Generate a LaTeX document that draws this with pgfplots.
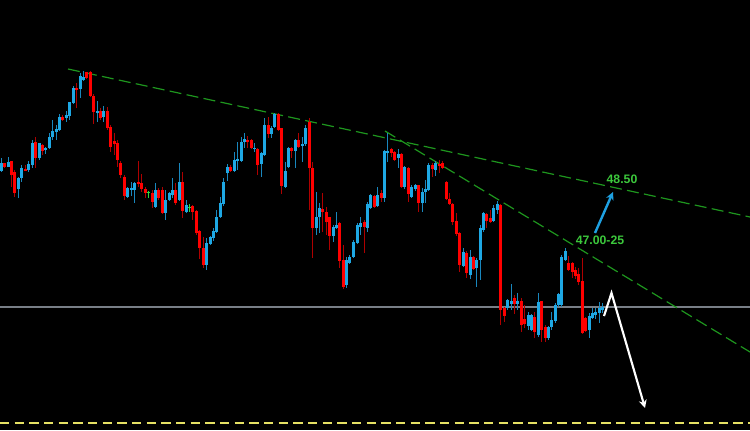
\documentclass[border=0pt]{standalone}
\usepackage{pgfplots}
\pgfplotsset{compat=1.18}
\usepackage{pgfplotstable}
\usepackage{fontspec}
\setmainfont{Liberation Sans}
\usetikzlibrary{arrows.meta,backgrounds}
\definecolor{cblue}{RGB}{30,168,228}
\definecolor{cbluew}{RGB}{25,135,190}
\definecolor{cred}{RGB}{255,0,0}
\definecolor{credw}{RGB}{175,0,0}
\definecolor{cdoji}{RGB}{40,220,60}
\definecolor{tline}{RGB}{30,150,30}
\definecolor{tlabel}{RGB}{60,200,60}
\definecolor{carrow}{RGB}{30,160,225}
\definecolor{cgrayline}{RGB}{120,126,134}
\definecolor{cyell}{RGB}{230,225,100}

% columns: x, body top, body bottom, high, low (chart pixel units, y down)
\pgfplotstableread{
x top bot hi lo
1.0 163 171 158 172
8.0 162 167 157 167
18.3 178 189 177 198
21.7 168 178 165 182
28.7 164 170 161 172
32.0 143 165 140 168
39.0 143 158 143 160
45.7 148 150 147 154
49.0 137 148 133 149
52.7 131 137 120 140
56.0 129 132 125 140
59.3 117 130 114 131
66.3 115 118 111 122
69.7 102 116 102 120
73.0 88 103 86 104
80.0 76 89 73 98
83.3 77 80 71 81
97.0 111 113 101 122
103.7 111 117 106 122
127.3 188 197 187 198
131.0 188 190 182 196
134.7 183 190 182 203
155.3 190 207 183 208
165.7 200 213 190 220
169.0 193 200 192 201
172.3 190 195 178 198
179.0 182 200 163 201
186.0 205 212 200 213
206.3 243 265 238 270
210.0 237 244 236 245
213.3 231 238 228 241
216.7 217 232 210 233
220.3 203 217 197 218
223.7 182 204 178 206
227.0 167 173 164 181
234.0 160 171 152 172
237.3 159 161 142 170
241.0 142 161 137 162
244.3 139 142 133 148
254.3 148 149 143 152
261.0 153 164 152 177
264.7 125 155 118 156
271.3 128 134 126 138
274.7 114 127 113 128
285.0 171 187 162 188
288.3 148 167 147 168
295.3 140 151 139 168
302.0 144 146 137 162
305.7 128 144 125 146
316.0 217 228 192 235
319.3 208 217 203 233
333.0 227 236 225 242
336.3 225 228 212 229
346.3 260 285 257 288
349.7 257 263 255 264
353.3 242 257 240 258
357.3 225 243 223 244
360.7 223 227 217 235
367.3 204 228 202 232
370.7 195 208 194 209
377.7 195 206 187 207
384.3 151 198 150 202
387.7 151 153 133 162
398.0 154 158 149 168
404.7 167 187 166 189
411.7 187 197 185 198
415.0 185 189 184 191
422.0 192 203 188 212
425.3 189 192 180 203
428.7 165 190 163 191
435.7 163 170 161 176
463.0 252 266 248 267
470.0 257 275 250 279
476.7 260 268 258 287
480.0 228 260 225 280
483.3 213 230 212 232
493.7 208 221 205 222
497.0 204 210 201 214
507.7 300 308 299 310
511.0 301 304 284 310
517.7 301 304 293 310
528.0 315 326 312 330
531.3 315 330 314 331
538.0 302 335 293 337
548.3 327 338 326 340
551.7 320 327 312 330
555.0 305 321 303 323
558.3 294 305 293 307
561.7 257 305 255 307
565.0 251 260 248 261
589.0 316 330 313 338
592.3 313 318 308 319
595.7 312 315 308 319
599.0 308 313 302 323
602.4 307 310 303 313
}\bluedata

\pgfplotstableread{
x top bot hi lo
4.3 163 167 163 168
11.3 161 175 161 187
14.7 172 193 170 197
25.0 169 171 165 171
35.3 142 158 137 168
42.3 145 151 144 155
62.7 117 120 115 121
76.3 88 90 83 108
86.7 72 78 72 79
90.0 72 96 71 97
93.7 96 112 94 124
100.3 111 118 108 120
107.0 111 128 107 130
110.7 127 147 125 152
114.0 141 144 133 155
117.3 143 160 140 167
120.7 163 175 161 178
124.0 177 196 175 200
138.0 182 184 161 187
141.3 183 189 174 192
145.0 189 193 187 198
152.0 193 202 190 208
158.7 190 198 188 200
162.0 190 213 187 214
175.7 190 203 183 205
182.7 182 211 172 218
192.7 206 212 205 220
196.3 211 233 210 235
199.7 231 248 230 259
203.0 248 265 237 268
230.3 167 171 165 172
247.7 140 142 136 148
251.0 140 148 139 149
257.7 149 165 148 175
268.0 125 134 117 138
278.3 114 130 113 131
281.7 128 186 128 194
291.7 148 151 147 158
298.7 140 147 133 148
309.0 122 168 118 210
312.3 168 228 162 258
322.7 209 212 193 232
326.0 212 222 207 235
329.3 217 236 217 250
339.7 223 261 222 268
343.0 260 287 245 289
364.0 222 227 220 253
374.0 196 207 195 208
381.0 193 198 190 202
391.0 149 153 148 157
394.7 152 160 151 161
401.3 154 187 153 188
408.3 168 194 167 202
418.3 185 203 185 212
432.0 165 169 163 177
439.0 164 166 160 173
442.3 163 168 161 169
446.0 182 199 181 200
449.3 199 204 193 205
452.7 204 222 203 225
456.0 221 234 213 236
459.7 233 265 232 272
466.3 253 273 251 278
473.3 257 269 256 270
486.7 214 221 213 228
490.3 218 222 210 223
500.7 205 310 204 325
504.0 308 316 307 322
514.3 298 304 295 314
521.0 301 325 298 332
524.3 319 324 305 328
534.7 317 332 312 338
541.3 301 330 301 342
545.0 327 338 325 342
568.7 263 270 256 271
572.0 263 272 262 278
575.3 270 276 267 279
578.7 274 282 268 285
582.3 281 333 258 334
585.7 318 331 317 332
}\reddata

\pgfplotstableread{
x top bot hi lo
148.3 192 193 191 198
189.3 207 208 204 212
}\dojidata

\pgfplotsset{
  wick/.style={draw=#1, solid, line width=0.75pt, mark=none,
    quiver={u=0, v=\thisrow{lo}-\thisrow{hi}}},
  body/.style={draw=#1, solid, line width=2.25pt, mark=none,
    quiver={u=0, v={max(\thisrow{bot}-\thisrow{top},1)}}},
}

\begin{document}
\begin{tikzpicture}[show background rectangle, inner frame sep=0pt,
  background rectangle/.style={fill=black, draw=none}]
\begin{axis}[
  scale only axis,
  width=562.5pt, height=322.5pt,
  xmin=0, xmax=750, ymin=0, ymax=430,
  y dir=reverse,
  axis background/.style={fill=black},
  axis line style={draw=none},
  ticks=none,
  clip=true,
]
% horizontal gray level
\addplot[cgrayline, solid, line width=1.1pt] coordinates {(0,307) (750,307)};
% yellow dashed level
\addplot[cyell, line width=1.1pt, dash pattern=on 7pt off 4pt] coordinates {(0,423) (750,423)};
% trendlines
\addplot[tline, line width=0.9pt, dash pattern=on 9pt off 4pt] coordinates {(68,69) (750,217)};
\addplot[tline, line width=0.9pt, dash pattern=on 9pt off 4pt] coordinates {(385,131) (750,352)};

% wicks
\addplot[wick=cbluew] table[x=x, y=hi] {\bluedata};
\addplot[wick=credw] table[x=x, y=hi] {\reddata};
\addplot[wick=cdoji] table[x=x, y=hi] {\dojidata};
% bodies
\addplot[body=cblue] table[x=x, y=top] {\bluedata};
\addplot[body=cred] table[x=x, y=top] {\reddata};
\addplot[body=cdoji] table[x=x, y=top] {\dojidata};

% arrows
\addplot[carrow, solid, line width=1.8pt, -{Stealth[length=6pt,width=6pt]}] coordinates {(595,233) (613,192)};
\addplot[white, solid, line width=1.6pt, -{Stealth[length=6pt,width=6pt]}] coordinates {(604,316) (611.5,293) (645,408)};

\node[text=tlabel, font=\bfseries\fontsize{9.2}{10}\selectfont] at (axis cs:622,179) {48.50};
\node[text=tlabel, font=\bfseries\fontsize{9.2}{10}\selectfont] at (axis cs:600,240) {47.00-25};
\end{axis}
\end{tikzpicture}
\end{document}
